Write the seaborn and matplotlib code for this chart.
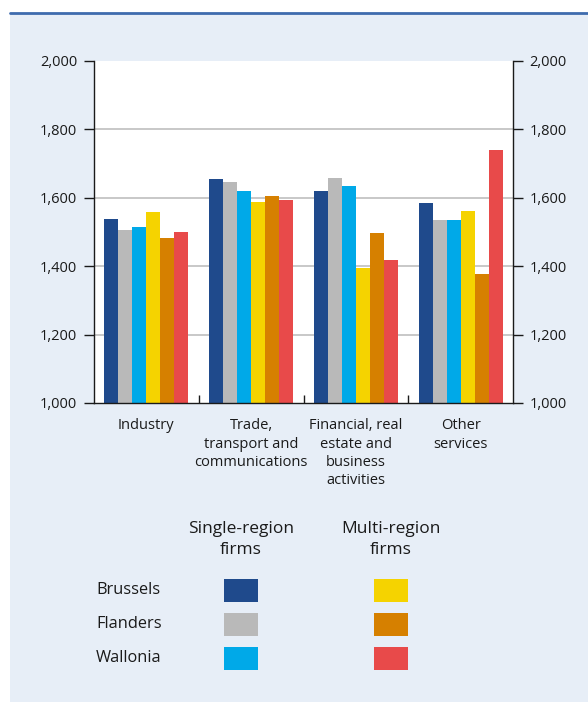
import matplotlib
matplotlib.use("Agg")
import matplotlib.pyplot as plt
from matplotlib.patches import Rectangle
from matplotlib.lines import Line2D
from matplotlib.ticker import FuncFormatter, FixedLocator
import seaborn as sns
import pandas as pd

# Sectors on the horizontal axis
sectors = [
    "Industry",
    "Trade,\ntransport and\ncommunications",
    "Financial, real\nestate and\nbusiness\nactivities",
    "Other\nservices",
]

# Series: firm type x region
series = [
    "Single-region Brussels", "Single-region Flanders", "Single-region Wallonia",
    "Multi-region Brussels", "Multi-region Flanders", "Multi-region Wallonia",
]
single_brussels = [1538, 1655, 1620, 1585]
single_flanders = [1506, 1646, 1658, 1535]
single_wallonia = [1515, 1620, 1635, 1535]
multi_brussels = [1558, 1588, 1396, 1561]
multi_flanders = [1482, 1605, 1497, 1377]
multi_wallonia = [1500, 1594, 1418, 1740]

palette = ["#1F4A8C", "#B9B9B9", "#00A9E8", "#F5D300", "#D68000", "#E84A4A"]
regions = ["Brussels", "Flanders", "Wallonia"]
legend_headers = ["Single-region\nfirms", "Multi-region\nfirms"]
y_ticks = [1000, 1200, 1400, 1600, 1800, 2000]

values = [single_brussels, single_flanders, single_wallonia,
          multi_brussels, multi_flanders, multi_wallonia]
df = pd.DataFrame(
    [(sec, ser, v) for ser, vals in zip(series, values) for sec, v in zip(sectors, vals)],
    columns=["sector", "series", "value"],
)

sns.set_theme(style="white")
plt.rcParams["font.family"] = ["Open Sans", "DejaVu Sans"]

W, H = 588, 702
fig = plt.figure(figsize=(W / 100, H / 100), dpi=100)
fig.patch.set_facecolor("white")

# light panel with blue rule on top
fig.patches.append(Rectangle((10 / W, 0), 1 - 10 / W, 1 - 14 / H,
                             transform=fig.transFigure, facecolor="#E7EEF7",
                             edgecolor="none", zorder=-5))
fig.lines.append(Line2D([10 / W, 1], [1 - 13 / H, 1 - 13 / H],
                        transform=fig.transFigure, color="#3E6BAE", lw=2.0,
                        zorder=-4))

ax = fig.add_axes([94 / W, 1 - 403 / H, (513 - 94) / W, (403 - 61) / H])
ax.set_zorder(1)
ax.set_facecolor("white")
sns.barplot(data=df, x="sector", y="value", hue="series", order=sectors,
            hue_order=series, palette=palette, width=0.8, saturation=1,
            linewidth=0, ax=ax, legend=False)

ax.set_ylim(1000, 2000)
ax.set_xlim(-0.5, 3.5)
ax.set_xlabel("")
ax.set_ylabel("")
ax.yaxis.set_major_locator(FixedLocator(y_ticks))
ax.yaxis.set_major_formatter(FuncFormatter(lambda v, p: f"{v:,.0f}"))
ax.set_axisbelow(True)
for y in y_ticks[1:-1]:
    ax.axhline(y, color="#C4C4C4", lw=1.3, zorder=0)

for side in ["left", "right", "bottom"]:
    ax.spines[side].set_visible(True)
    ax.spines[side].set_color("#1a1a1a")
    ax.spines[side].set_linewidth(1.0)
ax.spines["top"].set_visible(False)

ax.tick_params(axis="y", which="major", left=True, right=True, labelleft=True,
               labelright=True, direction="out", length=7, width=1.0,
               color="#1a1a1a", labelsize=10.5, labelcolor="#1a1a1a", pad=5)
ax.tick_params(axis="x", which="major", length=0, pad=11, labelsize=10.5,
               labelcolor="#1a1a1a")
ax.xaxis.set_minor_locator(FixedLocator([0.5, 1.5, 2.5]))
ax.tick_params(axis="x", which="minor", bottom=True, direction="in", length=6,
               width=1.0, color="#1a1a1a")
for lab in ax.get_xticklabels():
    lab.set_linespacing(1.3)
    lab.set_verticalalignment("top")

# legend grid
col_x = [241, 391]
for cx, head in zip(col_x, legend_headers):
    fig.text(cx / W, 1 - 521 / H, head, ha="center", va="top", fontsize=12.5,
             color="#1a1a1a", linespacing=1.4)
row_y = [590, 624, 658]
for i, (ry, reg) in enumerate(zip(row_y, regions)):
    fig.text(96 / W, 1 - ry / H, reg, ha="left", va="center", fontsize=11.8,
             color="#1a1a1a")
    for j, cx in enumerate(col_x):
        sw, sh = 34, 23
        fig.patches.append(Rectangle(((cx - sw / 2) / W, 1 - (ry + sh / 2) / H),
                                     sw / W, sh / H, transform=fig.transFigure,
                                     facecolor=palette[j * 3 + i], edgecolor="none"))

fig.savefig("out.png", dpi=100)
